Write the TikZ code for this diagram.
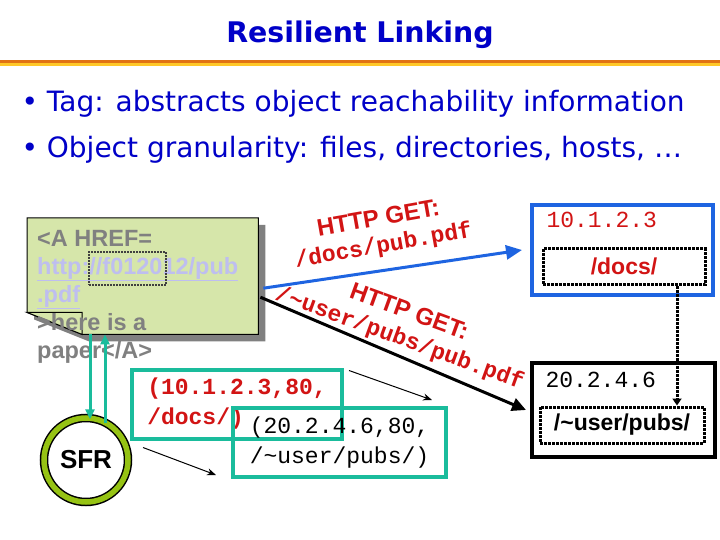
\documentclass[tikz,border=0pt]{standalone}
\usepackage{fontspec}
\setmainfont{Liberation Sans}
\newfontfamily\tahoma{DejaVu Sans}
\newfontfamily\courier{Liberation Mono}
\usetikzlibrary{arrows.meta, positioning, calc}
\definecolor{slideBlue}{RGB}{0, 0, 200}
\definecolor{tealLine}{RGB}{26, 188, 156}
\definecolor{linkBlue}{RGB}{30, 100, 225}
\definecolor{codeRed}{RGB}{210, 20, 20}
\definecolor{noteGreen}{RGB}{214, 230, 170}
\definecolor{ringGreen}{RGB}{150, 195, 20}
\definecolor{barOrange}{RGB}{225, 115, 20}
\definecolor{barYellow}{RGB}{255, 200, 40}
\definecolor{linkText}{RGB}{190, 190, 240}
\definecolor{noteText}{RGB}{128, 128, 128}

\begin{document}
\begin{tikzpicture}[x=1pt, y=-1pt,
    tagbox/.style={draw=tealLine, line width=4pt, minimum width=210pt, minimum height=69pt, align=left, font=\courier\fontsize{23}{30}\selectfont},
    hostbox/.style={line width=4pt, minimum width=181pt, minimum height=92pt},
    dirbox/.style={draw=black, densely dotted, line width=3pt, minimum width=162pt, minimum height=36pt, font=\bfseries\fontsize{23}{27}\selectfont},
    tealArrow/.style={draw=tealLine, line width=3pt, -{Triangle[length=10pt, width=9pt]}},
    thinArrow/.style={draw=black, line width=1pt, -{Stealth[length=9pt, width=7pt]}},
    getlabel/.style={text=codeRed, align=center, font=\courier\bfseries\fontsize{23}{27}\selectfont}]
  \useasboundingbox (0,0) rectangle (720,540);
  \fill[white] (0,0) rectangle (720,540);

  % title and bars
  \node[text=slideBlue, font=\tahoma\bfseries\fontsize{28.4}{32}\selectfont] (title) at (360,35) {Resilient Linking};
  \fill[barOrange] (0,60) rectangle (720,63.5);
  \fill[barYellow] (0,63.5) rectangle (720,66.5);

  % bullets
  \node[anchor=base west, text=slideBlue, font=\tahoma\fontsize{28}{32}\selectfont] (bullet1) at (18,112) {• Tag: abstracts object reachability information};
  \node[anchor=base west, text=slideBlue, font=\tahoma\fontsize{28}{32}\selectfont] (bullet2) at (18,158) {• Object granularity: files, directories, hosts, …};

  % the note with folded corner
  \node[minimum width=231pt, minimum height=116pt, inner sep=0pt, anchor=north west] (note) at (27,218) {};
  \fill[noteText] ([shift={(7,7)}]note.north west) -- ([shift={(7,7)}]note.north east) -- ([shift={(7,7)}]note.south east) -- ([shift={(62,7)}]note.south west) -- ([shift={(7,-15)}]note.south west) -- cycle;
  \draw[fill=noteGreen, line width=1pt] (note.north west) -- (note.north east) -- (note.south east) -- ([xshift=55]note.south west) -- ([shift={(0,-22)}]note.south west) -- cycle;
  \draw[fill=noteGreen, line width=1pt] ([shift={(0,-22)}]note.south west) -- ([shift={(55,-22)}]note.south west) -- ([xshift=55]note.south west) -- cycle;
  \node[anchor=base west, align=left, inner sep=0pt, text=noteText, font=\bfseries\fontsize{23.5}{28}\selectfont] (href) at (37,358)
    {<A HREF=\\\textcolor{linkText}{\underline{http://f012012/pub}}\\\textcolor{linkText}{\underline{.pdf}}\\>here is a\\paper</A>};
  \node[draw=darkgray, densely dotted, line width=2pt, minimum width=77pt, minimum height=33pt] (hostmark) at (127.5,268.5) {};

  % SFR
  \node[circle, draw=black, line width=1.5pt, double=ringGreen, double distance=5.5pt, minimum size=84pt, font=\bfseries\fontsize{26}{30}\selectfont] (sfr) at (86,460) {SFR};
  \draw[tealArrow] ([xshift=63]note.south west) -- ([xshift=4, yshift=-2]sfr.north);
  \draw[tealArrow] ([xshift=19, yshift=-6]sfr.north) -- ([xshift=78]note.south west);

  % tags
  \node[tagbox, text=codeRed, font=\courier\bfseries\fontsize{23}{30}\selectfont] (tag1) at (237,404) {(10.1.2.3,80,\\/docs/)};
  \node[tagbox, minimum width=213pt] (tag2) at (339.5,442.5) {(20.2.4.6,80,\\/\textasciitilde user/pubs/)};
  \draw[thinArrow] ([shift={(13,7)}]tag1.south west) -- ([shift={(-15,-4)}]tag2.south west);
  \draw[thinArrow] ([shift={(5,3)}]tag1.north east) -- ([shift={(-16,-6)}]tag2.north east);

  % hosts
  \node[hostbox, draw=linkBlue, minimum height=90pt] (hostA) at (622.5,250) {};
  \node[anchor=base west, text=codeRed, font=\courier\fontsize{23}{27}\selectfont] (ipA) at (543,228) {10.1.2.3};
  \node[dirbox, text=codeRed] (docsdir) at (624,266.5) {/docs/};
  \node[hostbox, draw=black, minimum width=183pt, minimum height=94pt] (hostB) at (623.5,410) {};
  \node[anchor=base west, font=\courier\fontsize{23}{27}\selectfont] (ipB) at (542,387) {20.2.4.6};
  \node[dirbox, minimum width=164pt] (userdir) at (622,425) {/\textasciitilde user/pubs/};
  \draw[black, densely dotted, line width=3pt, -{Triangle[length=7pt, width=9pt]}] ([xshift=53]docsdir.south) -- ([xshift=55]userdir.north);

  % requests
  \draw[linkBlue, line width=3pt, -{Triangle[length=16pt, width=14pt]}] ([shift={(5,12)}]note.east) -- ([xshift=-8]hostA.west);
  \draw[black, line width=3pt, -{Triangle[length=14pt, width=13pt]}] ([shift={(2,21)}]note.east) -- ([xshift=-4]hostB.west);
  \node[getlabel, rotate=10] (getA) at (381,233) {{\fontfamily{\familydefault}\selectfont\fontsize{24}{27}\selectfont HTTP GET:}\\/docs/pub.pdf};
  \node[getlabel, rotate=-20] (getB) at (404,326) {{\fontfamily{\familydefault}\selectfont\fontsize{24}{27}\selectfont HTTP GET:}\\/\textasciitilde user/pubs/pub.pdf};
\end{tikzpicture}
\end{document}
